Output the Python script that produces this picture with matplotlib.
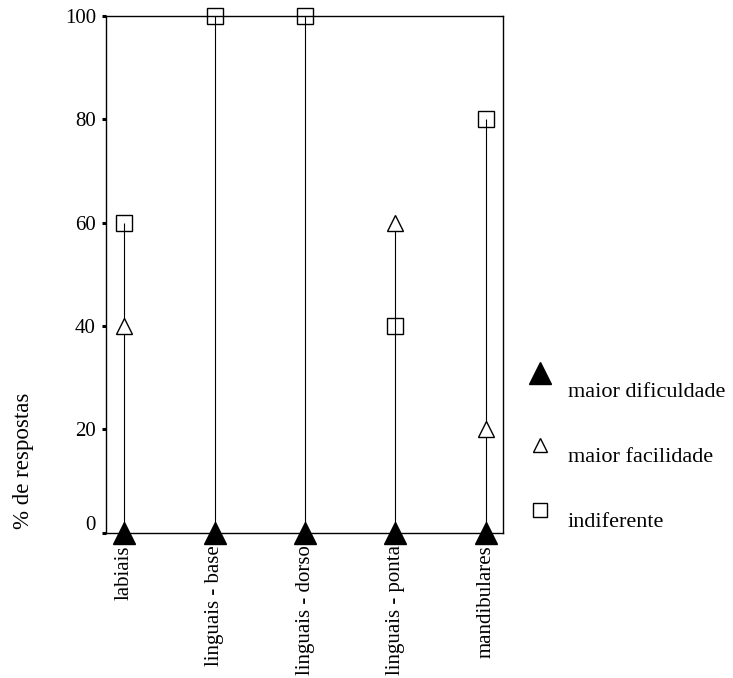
import matplotlib
matplotlib.use('Agg')
import matplotlib.pyplot as plt
import matplotlib.transforms as mtransforms
import numpy as np

plt.rcParams['font.family'] = ['Liberation Serif', 'DejaVu Serif']

categories = ['labiais', 'linguais - base', 'linguais - dorso', 'linguais - ponta', 'mandibulares']
maior_dificuldade = [0, 0, 0, 0, 0]
maior_facilidade = [40, 0, 0, 60, 20]
indiferente = [60, 100, 100, 40, 80]
yticks = [0, 20, 40, 60, 80, 100]

fs = 15
fig = plt.figure(figsize=(7.33, 6.78), dpi=100)
ax = fig.add_axes([0.1442, 0.2143, 0.542, 0.7621])

x = np.arange(len(categories))
top = np.maximum.reduce([maior_dificuldade, maior_facilidade, indiferente])
ax.vlines(x, 0, top, color='black', lw=0.8, zorder=2)

ax.plot(x, indiferente, 's', ms=11, mfc='none', mec='black', mew=1.0, zorder=3, clip_on=False)
ax.plot(x, maior_facilidade, '^', ms=11, mfc='white', mec='black', mew=1.0, zorder=4, clip_on=False)
ax.plot(x, maior_dificuldade, '^', ms=16.5, mfc='black', mec='black', zorder=5, clip_on=False)

ax.set_xlim(-0.206, 4.19)
ax.set_ylim(0, 100)
ax.set_xticks(x)
ax.set_xticklabels(categories, rotation=90, fontsize=fs)
ax.set_yticks(yticks)
ax.set_yticklabels([str(v) for v in yticks], fontsize=fs)
ax.tick_params(axis='x', length=0, pad=9)
ax.tick_params(axis='y', direction='out', length=3, width=2.2, pad=4)
for s in ax.spines.values():
    s.set_linewidth(1.0)

# the "0" label sits a bit above its tick
lbl0 = ax.get_yticklabels()[0]
lbl0.set_transform(lbl0.get_transform() + mtransforms.ScaledTranslation(0, 10 / 100, fig.dpi_scale_trans))

fig.text(24 / 733, 1 - 461 / 678, '% de respostas', rotation=90, ha='center', va='center', fontsize=16.5)

# legend drawn by hand: marker with its text a bit lower
W, H = 733, 678
legend = [
    (dict(marker='^', ms=16.5, mfc='black', mec='black'), 373, 397, 'maior dificuldade'),
    (dict(marker='^', ms=10, mfc='white', mec='black', mew=1.0), 445, 462, 'maior facilidade'),
    (dict(marker='s', ms=10, mfc='none', mec='black', mew=1.0), 510, 527, 'indiferente'),
]
for style, my, ty, label in legend:
    fig.add_artist(plt.Line2D([540 / W], [1 - my / H], transform=fig.transFigure, ls='none', **style))
    fig.text(568 / W, 1 - ty / H, label, ha='left', va='baseline', fontsize=16)

fig.savefig('out.png', dpi=100)
